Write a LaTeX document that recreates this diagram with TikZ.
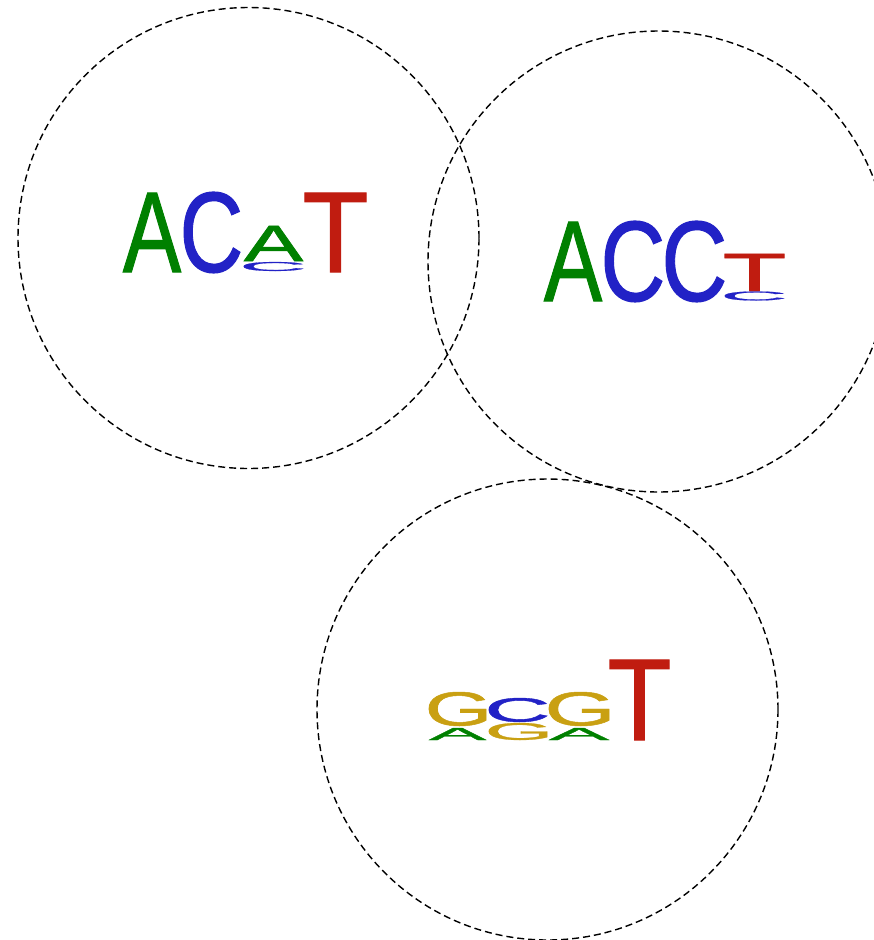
\documentclass[tikz,border=0pt]{standalone}
\usepackage{graphicx}
% slightly emboldened Arial-metric sans for the logo letters
\font\logofnt="Liberation Sans:embolden=1.0" at 10pt
\definecolor{baseA}{HTML}{008000}
\definecolor{baseC}{HTML}{2222C6}
\definecolor{baseG}{HTML}{C9A012}
\definecolor{baseT}{HTML}{C01C10}
% one letter with its side bearings removed, so the ink fills the box
\newcommand\inkletter[2]{{\logofnt\color{#1}%
  \dimen0=\XeTeXglyphbounds1 \XeTeXcharglyph`#2\relax
  \dimen2=\XeTeXglyphbounds3 \XeTeXcharglyph`#2\relax
  \kern-\dimen0 #2\kern-\dimen2}}
% \logoglyph{name}{colour}{left}{top}{right}{bottom}{letter}
% draws one letter stretched to fill the given box (pixel-like units)
\newcommand\logoglyph[7]{%
  \node[glyph] (#1) at (#3,#6)
    {\resizebox*{\dimexpr#5pt-#3pt\relax}{\dimexpr#6pt-#4pt\relax}{\inkletter{#2}{#7}}};}
\begin{document}
\begin{tikzpicture}[x=1pt,y=-1pt,
  glyph/.style={inner sep=0pt,outer sep=0pt,anchor=south west},
  ring/.style={circle,draw=black,line width=1.4pt,dash pattern=on 7pt off 4pt,
    minimum size=461pt,inner sep=0pt}]
\clip (0,0) rectangle (874,940);
\fill[white] (0,0) rectangle (874,940);

% the three clusters
\node[ring] (ring1) at (248.5,238) {};
\node[ring] (ring2) at (658.5,261.5) {};
\node[ring] (ring3) at (547.5,709.5) {};

% motif ACAT
\logoglyph{m1a}{baseA}{123}{193}{181}{272}{A}
\logoglyph{m1b}{baseC}{184}{192}{240}{273}{C}
\logoglyph{m1c}{baseA}{244}{226}{303}{261}{A}
\logoglyph{m1d}{baseC}{244}{262}{303}{271}{C}
\logoglyph{m1e}{baseT}{305}{193}{366}{272}{T}

% motif ACCT
\logoglyph{m2a}{baseA}{544}{222}{602}{301}{A}
\logoglyph{m2b}{baseC}{605}{221}{662}{302}{C}
\logoglyph{m2c}{baseC}{666}{221}{724}{302}{C}
\logoglyph{m2d}{baseT}{725}{254}{784}{291}{T}
\logoglyph{m2e}{baseC}{725}{291.5}{784}{300.5}{C}

% motif GCGT
\logoglyph{m3a}{baseG}{429}{692}{486}{726}{G}
\logoglyph{m3b}{baseA}{429}{728}{486}{740}{A}
\logoglyph{m3c}{baseC}{489}{698}{547}{722}{C}
\logoglyph{m3d}{baseG}{489}{723}{547}{740}{G}
\logoglyph{m3e}{baseG}{549}{692}{609}{726}{G}
\logoglyph{m3f}{baseA}{549}{728}{609}{740}{A}
\logoglyph{m3g}{baseT}{610}{660}{669}{740}{T}
\end{tikzpicture}
\end{document}
